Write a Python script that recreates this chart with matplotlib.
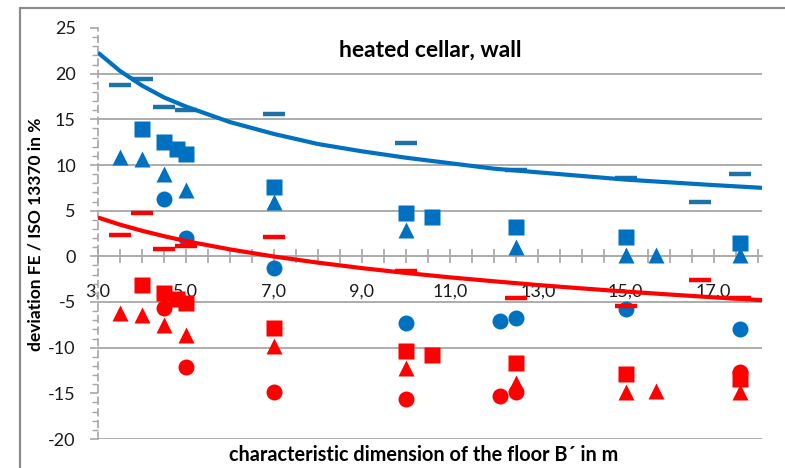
import matplotlib
matplotlib.use("Agg")
import matplotlib.pyplot as plt
from matplotlib.patches import Rectangle
from matplotlib.ticker import MultipleLocator, FixedLocator, FuncFormatter

# ---- data ----
blue_dash_x = [3.5, 4.0, 4.5, 5.0, 7.0, 10.0, 12.5, 15.0, 16.7, 17.6]
blue_dash_y = [18.8, 19.4, 16.3, 16.0, 15.6, 12.4, 9.4, 8.6, 5.9, 9.0]

blue_sq_x = [4.0, 4.5, 4.8, 5.0, 7.0, 10.0, 10.6, 12.5, 15.0, 17.6]
blue_sq_y = [13.9, 12.5, 11.7, 11.2, 7.6, 4.7, 4.3, 3.2, 2.1, 1.5]

blue_tri_x = [3.5, 4.0, 4.5, 5.0, 7.0, 10.0, 12.5, 15.0, 15.7, 17.6]
blue_tri_y = [10.9, 10.7, 9.0, 7.3, 5.9, 2.9, 1.0, 0.2, 0.2, 0.2]

blue_circ_x = [4.5, 5.0, 7.0, 10.0, 12.15, 12.5, 15.0, 17.6]
blue_circ_y = [6.3, 2.0, -1.3, -7.3, -7.1, -6.7, -5.8, -8.0]

red_dash_x = [3.5, 4.0, 4.5, 5.0, 7.0, 10.0, 12.5, 15.0, 16.7, 17.6]
red_dash_y = [2.3, 4.7, 0.8, 1.1, 2.1, -1.6, -4.6, -5.4, -2.6, -4.6]

red_sq_x = [4.0, 4.5, 4.8, 5.0, 7.0, 10.0, 10.6, 12.5, 15.0, 17.6]
red_sq_y = [-3.1, -4.0, -4.7, -5.1, -7.9, -10.4, -10.8, -11.7, -12.9, -13.4]

red_tri_x = [3.5, 4.0, 4.5, 5.0, 7.0, 10.0, 12.5, 15.0, 15.7, 17.6]
red_tri_y = [-6.2, -6.4, -7.5, -8.6, -9.8, -12.2, -13.9, -14.8, -14.7, -14.8]

red_circ_x = [4.5, 5.0, 7.0, 10.0, 12.15, 12.5, 17.6]
red_circ_y = [-5.7, -12.1, -14.9, -15.6, -15.3, -14.9, -12.7]

# trend lines (read at sample positions)
trend_x = [3.0, 3.5, 4.0, 4.5, 5.0, 6.0, 7.0, 8.0, 9.0, 10.0, 11.0, 12.0,
           13.0, 14.0, 15.0, 16.0, 17.0, 18.1]
blue_trend_y = [22.3, 20.3, 18.7, 17.4, 16.4, 14.7, 13.4, 12.3, 11.5, 10.8,
                10.2, 9.6, 9.2, 8.8, 8.4, 8.1, 7.8, 7.5]
red_trend_y = [4.25, 3.47, 2.80, 2.21, 1.67, 0.76, -0.02, -0.69, -1.29, -1.82,
               -2.30, -2.73, -3.14, -3.51, -3.86, -4.18, -4.49, -4.80]

x_tick_labels = ["3,0", "5,0", "7,0", "9,0", "11,0", "13,0", "15,0", "17,0"]
x_tick_pos = [3, 5, 7, 9, 11, 13, 15, 17]
grid_levels = [20, 15, 10, 5, -5, -10, -20]

title = "heated cellar, wall"
xlabel = "characteristic dimension of the floor B\u00b4 in m"
ylabel = "deviation FE / ISO 13370 in %"

BLUE = "#0070C0"
BLUE_DASH = "#1F72A8"
RED = "#FF0000"
GRID = "#A6A6A6"

plt.rcParams['font.family'] = ['Lato', 'DejaVu Sans']

fig = plt.figure(figsize=(7.85, 4.68), dpi=100)
ax = fig.add_axes([98/785, 1-439/468, (762-98)/785, (439-28)/468])

# outer frame
fig.patches.append(Rectangle((20/785, -0.2), 1.2, 1.2 - 8/468, transform=fig.transFigure,
                             fill=False, edgecolor="#8C8C8C", linewidth=1.6, zorder=0))

ax.set_xlim(3.0, 18.1)
ax.set_ylim(-20, 25)
ax.patch.set_alpha(0)

for g in grid_levels:
    ax.axhline(g, color=GRID, lw=1.3, zorder=1)

ms_sq = 11.5
ms_c = 11.5
ms_t = 11.5
# blue
ax.plot(blue_circ_x, blue_circ_y, 'o', color=BLUE, ms=ms_c, mec='none', zorder=3)
ax.plot(blue_tri_x, blue_tri_y, '^', color=BLUE, ms=ms_t, mec='none', zorder=3)
ax.plot(blue_sq_x, blue_sq_y, 's', color=BLUE, ms=ms_sq, mec='none', zorder=3)
ax.plot(blue_dash_x, blue_dash_y, '_', color=BLUE_DASH, ms=16, mew=3.2, zorder=3)
# red
ax.plot(red_circ_x, red_circ_y, 'o', color=RED, ms=ms_c, mec='none', zorder=4)
ax.plot(red_tri_x, red_tri_y, '^', color=RED, ms=ms_t, mec='none', zorder=4)
ax.plot(red_sq_x, red_sq_y, 's', color=RED, ms=ms_sq, mec='none', zorder=4)
ax.plot(red_dash_x, red_dash_y, '_', color=RED, ms=16, mew=3.2, zorder=4)

# trend lines
ax.plot(trend_x, blue_trend_y, '-', color=BLUE, lw=3.0, zorder=5, solid_capstyle='butt')
ax.plot(trend_x, red_trend_y, '-', color=RED, lw=3.0, zorder=5, solid_capstyle='butt')

# spines
for s in ['top', 'right']:
    ax.spines[s].set_visible(False)
ax.spines['bottom'].set_position(('data', 0))
ax.spines['bottom'].set_color(GRID)
ax.spines['bottom'].set_linewidth(1.3)
ax.spines['bottom'].set_zorder(2)
ax.spines['left'].set_color(GRID)
ax.spines['left'].set_linestyle((0, (4, 3)))
ax.spines['left'].set_linewidth(1.2)

# x ticks
ax.xaxis.set_major_locator(FixedLocator(x_tick_pos))
ax.set_xticklabels(x_tick_labels)
ax.xaxis.set_minor_locator(MultipleLocator(0.5))
ax.tick_params(axis='x', which='both', direction='inout', length=10, width=1.2,
               color=GRID, labelsize=13, pad=15, labelcolor='#1a1a1a')
# y ticks
ax.yaxis.set_major_locator(MultipleLocator(5))
ax.yaxis.set_minor_locator(MultipleLocator(1))
ax.yaxis.set_major_formatter(FuncFormatter(lambda v, p: f"{int(round(v))}"))
ax.tick_params(axis='y', which='major', direction='out', length=6, width=1.2,
               color=GRID, labelsize=13, pad=10, labelcolor='#1a1a1a')
ax.tick_params(axis='y', which='minor', direction='out', length=4, width=1.0, color=GRID)

ax.text(0.5, 0.945, title, transform=ax.transAxes, ha='center', va='center',
        fontsize=16.5, fontweight='bold', color='black')

fig.text(424/785, 1-455/468, xlabel, ha='center', va='center',
         fontsize=14.3, fontweight='bold')
fig.text(36/785, 1-234/468, ylabel, ha='center', va='center', rotation=90,
         fontsize=12.5, fontweight='bold')

fig.savefig("out.png", dpi=100)
